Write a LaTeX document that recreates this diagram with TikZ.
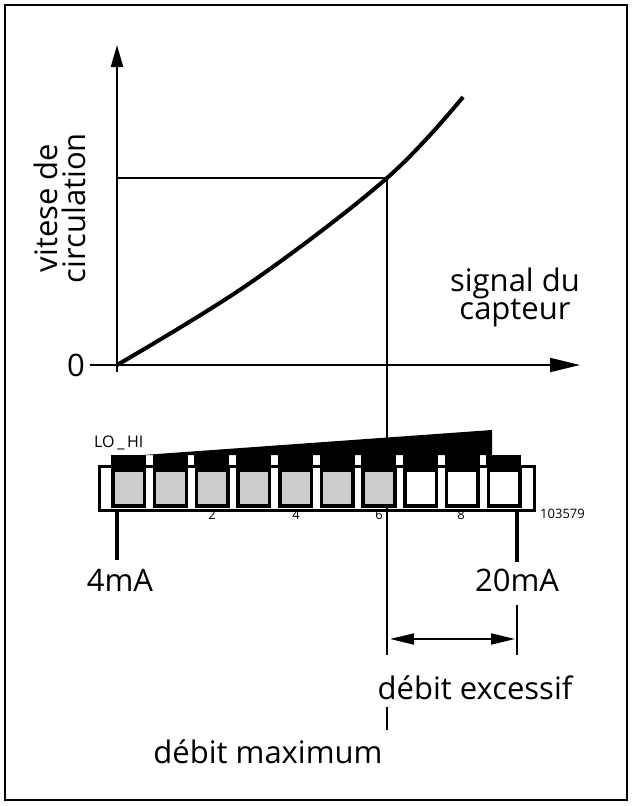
\documentclass[tikz,border=0pt]{standalone}
\usepackage{fontspec}
\setmainfont{Open Sans}
\usetikzlibrary{arrows.meta}
\begin{document}
\begin{tikzpicture}[x=1pt,y=-1pt,
  lbl/.style={font=\fontsize{31}{33}\selectfont,inner sep=0},
  num/.style={font=\fontsize{13}{14}\selectfont,inner sep=0},
  cell/.style={draw=black,line width=3.5pt}]
\useasboundingbox (0,0) rectangle (632,806);
\draw[line width=2.5pt] (5,5) rectangle (627,800);
% axes
\coordinate (o) at (117,365);
\coordinate (ytip) at (117,45);
\coordinate (xs) at (90,365);
\coordinate (xtip) at (580,365);
\draw[line width=2pt,-{Triangle[length=22pt,width=12pt]}] (117,372) -- (ytip);
\draw[line width=2pt,-{Triangle[length=30pt,width=14pt]}] (xs) -- (xtip);
\node[lbl,anchor=east] (zero) at (85,365) {0};
\node[lbl,rotate=90,align=center] (ylab) at (60,208) {vitese de\\[-5pt]circulation};
\node[lbl,align=center] (xlab) at (515,297) {signal du\\[-5pt]capteur};
% curve
\coordinate (p) at (387,178);
\draw[line width=4pt] plot[smooth,tension=0.6] coordinates {(117,365) (250,283) (387,178) (463,97)};
\draw[line width=1.3pt] (117,178) -- (p) -- (387,655);
% ruler
\fill (143,455) -- (492,430) -- (492,455) -- cycle;
\node[num,font=\fontsize{16}{16}\selectfont,anchor=west] (lohi) at (94,443) {LO\,\_\,HI};
\draw[line width=3pt] (99,466) rectangle (534,510);
\foreach \i in {0,...,9}{
  \pgfmathsetmacro{\xa}{113+41.7*\i}
  \fill (\xa-2,455) rectangle (\xa+33,468);
  \ifnum\i<7
    \filldraw[cell,fill=black!20] (\xa,470) rectangle (\xa+31.6,506);
  \else
    \draw[cell] (\xa,470) rectangle (\xa+31.6,506);
  \fi
}
\node[num] (n2) at (212,515) {2};
\node[num] (n4) at (296,515) {4};
\node[num] (n6) at (379,515) {6};
\node[num] (n8) at (461,515) {8};
\node[num,anchor=west] (code) at (540,514) {103579};
% legs
\draw[line width=4.5pt] (117,510) -- (117,560);
\draw[line width=4.5pt] (517,510) -- (517,562);
\node[lbl] (ma4) at (120,580) {4mA};
\node[lbl] (ma20) at (517,580) {20mA};
% dimension
\draw[line width=1.3pt] (517,605) -- (517,655);
\draw[line width=2pt,{Triangle[length=24pt,width=11pt]}-{Triangle[length=24pt,width=11pt]}] (390,639) -- (515,639);
\node[lbl] (exc) at (475,688) {débit excessif};
\draw[line width=1.3pt] (387,707) -- (387,730);
\node[lbl] (max) at (268,752) {débit maximum};
\end{tikzpicture}
\end{document}
